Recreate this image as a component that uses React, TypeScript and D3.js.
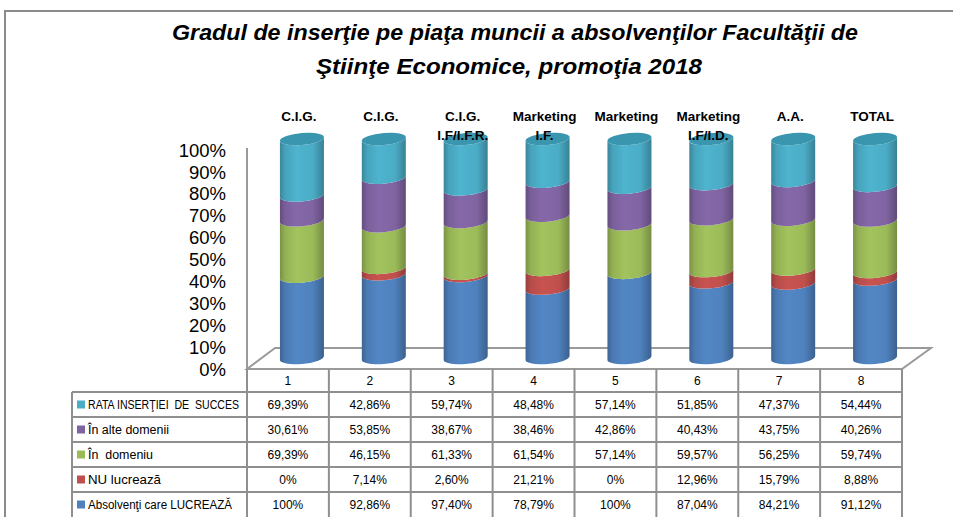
import React from "react";
import * as d3 from "d3";

const W = 953;
const H = 517;

const catLine1 = ["C.I.G.", "C.I.G.", "C.I.G.", "Marketing", "Marketing", "Marketing", "A.A.", "TOTAL"];
const catLine2 = ["", "", "I.F/I.F.R.", "I.F.", "", "I.F/I.D.", "", ""];
const colNumbers = ["1", "2", "3", "4", "5", "6", "7", "8"];

const absolventi = [100, 92.86, 97.4, 78.79, 100, 87.04, 84.21, 91.12];
const nuLucreaza = [0, 7.14, 2.6, 21.21, 0, 12.96, 15.79, 8.88];
const inDomeniu = [69.39, 46.15, 61.33, 61.54, 57.14, 59.57, 56.25, 59.74];
const inAlteDomenii = [30.61, 53.85, 38.67, 38.46, 42.86, 40.43, 43.75, 40.26];
const rataInsertiei = [69.39, 42.86, 59.74, 48.48, 57.14, 51.85, 47.37, 54.44];

const yTicks = [0, 0.1, 0.2, 0.3, 0.4, 0.5, 0.6, 0.7, 0.8, 0.9, 1];

const seriesKeys = ["abs", "nu", "dom", "alte", "rata"];
const seriesNames: Record<string, string> = {
  abs: "Absolvenţi care LUCREAZĂ",
  nu: "NU lucrează",
  dom: "În  domeniu",
  alte: "În alte domenii",
  rata: "RATA INSERŢIEI  DE  SUCCES",
};
const legendTextWidths: Record<string, number> = {
  abs: 144,
  nu: 73,
  dom: 65,
  alte: 81,
  rata: 151,
};
const seriesValues: Record<string, number[]> = {
  abs: absolventi,
  nu: nuLucreaza,
  dom: inDomeniu,
  alte: inAlteDomenii,
  rata: rataInsertiei,
};
const seriesColors: Record<string, string> = {
  abs: "#4F81BD",
  nu: "#C0504D",
  dom: "#9BBB59",
  alte: "#8064A2",
  rata: "#4BACC6",
};
const tableOrder = ["rata", "alte", "dom", "nu", "abs"];

function fmt(v: number) {
  if (Number.isInteger(v)) return `${v}%`;
  return `${v.toFixed(2).replace(".", ",")}%`;
}

export default function App() {
  const rows = catLine1.map((_, i) => {
    const o: Record<string, number> = {};
    seriesKeys.forEach((k) => (o[k] = seriesValues[k][i]));
    return o;
  });
  const stacked = d3.stack<Record<string, number>>().keys(seriesKeys).offset(d3.stackOffsetExpand)(rows);

  const x = d3.scaleBand<number>().domain(d3.range(8)).range([247, 902]).paddingInner(0).paddingOuter(0);
  const y = d3.scaleLinear().domain([0, 1]).range([369, 150]);

  const depthDx = 14;
  const depthDy = -11;
  const r = 22;
  const ry = 6;

  const cx = (i: number) => (x(i) as number) + x.bandwidth() / 2 + depthDx;
  const cy = (v: number) => y(v) + depthDy;

  const segPath = (c: number, t: number, b: number) =>
    `M${c - r},${t} A${r},${ry} 0 0 0 ${c + r},${t} L${c + r},${b} A${r},${ry} 0 0 1 ${c - r},${b} Z`;

  const gradId = (k: string) => `grad-${k}`;

  const tableLeft = 72;
  const tableRight = 902;
  const headerTop = 369;
  const headerBottom = 392;
  const rowH = 25;
  const gridColor = "#8f8f8f";

  return (
    <svg width={W} height={H} style={{ position: "absolute", left: 0, top: 0, background: "#fff" }}>
      <defs>
        {seriesKeys.map((k) => {
          const c = d3.color(seriesColors[k])!;
          return (
            <linearGradient key={k} id={gradId(k)} x1="0" x2="1" y1="0" y2="0">
              <stop offset="0" stopColor={c.darker(0.7).formatHex()} />
              <stop offset="0.12" stopColor={c.darker(0.15).formatHex()} />
              <stop offset="0.38" stopColor={c.brighter(0.12).formatHex()} />
              <stop offset="0.75" stopColor={c.formatHex()} />
              <stop offset="1" stopColor={c.darker(0.8).formatHex()} />
            </linearGradient>
          );
        })}
      </defs>
      <rect x={0} y={0} width={W} height={H} fill="#fff" />
      {/* frame */}
      <path d={`M5,${H} L5,11 L${W},11`} fill="none" stroke="#8a8a8a" strokeWidth={2} />

      {/* title */}
      <g fontFamily="'Liberation Sans', Arial, sans-serif" fontWeight="bold" fontStyle="italic" fontSize={22} fill="#000">
        <text x={515} y={40} textAnchor="middle" textLength={686} lengthAdjust="spacingAndGlyphs">
          Gradul de inserţie pe piaţa muncii a absolvenţilor Facultăţii de
        </text>
        <text x={509} y={74} textAnchor="middle" textLength={386} lengthAdjust="spacingAndGlyphs">
          Ştiinţe Economice, promoţia 2018
        </text>
      </g>

      {/* y axis labels */}
      <g fontFamily="'Liberation Sans', Arial, sans-serif" fontSize={18.5} fill="#000">
        {yTicks.map((t) => (
          <text key={t} x={226} y={y(t)} dy="0.36em" textAnchor="end">
            {d3.format(".0%")(t)}
          </text>
        ))}
      </g>

      {/* axis and floor */}
      <g fill="none" stroke="#9a9a9a" strokeWidth={2}>
        <line x1={247} y1={148} x2={247} y2={369} />
        <path
          d={`M247,369 L${247 + 2 * depthDx},${369 + 2 * depthDy + 1} L${902 + 2 * depthDx + 1},${369 + 2 * depthDy + 1} L902,369 Z`}
        />
      </g>

      {/* cylinders */}
      {catLine1.map((_, i) => {
        const c = cx(i);
        const topY = cy(1);
        return (
          <g key={i} transform={`translate(${c},${topY}) skewY(-5) translate(${-c},${-topY})`}>
            {stacked.map((s) => {
              const d = s[i];
              if (d[1] - d[0] <= 0) return null;
              return <path key={s.key} d={segPath(c, cy(d[1]), cy(d[0]))} fill={`url(#${gradId(s.key)})`} />;
            })}
            <ellipse cx={c} cy={topY} rx={r} ry={ry} fill="#3A95AE" />
          </g>
        );
      })}

      {/* category labels */}
      <g fontFamily="'Liberation Sans', Arial, sans-serif" fontWeight="bold" fontSize={13.5} fill="#000" textAnchor="middle">
        {catLine1.map((l, i) => (
          <g key={i}>
            <text x={cx(i) - 3} y={121}>
              {l}
            </text>
            {catLine2[i] && (
              <text x={cx(i) - 3} y={140}>
                {catLine2[i]}
              </text>
            )}
          </g>
        ))}
      </g>

      {/* data table */}
      <g stroke={gridColor} strokeWidth={2} fill="none">
        {d3.range(9).map((j) => {
          const xx = j < 8 ? (x(j) as number) : tableRight;
          return <line key={j} x1={xx} y1={headerTop} x2={xx} y2={H} />;
        })}
        <line x1={tableLeft} y1={headerBottom} x2={tableLeft} y2={H} />
        {d3.range(5).map((k) => (
          <line key={k} x1={tableLeft} y1={headerBottom + k * rowH} x2={tableRight} y2={headerBottom + k * rowH} />
        ))}
      </g>
      <g fontFamily="'Liberation Sans', Arial, sans-serif" fontSize={12} fill="#000" textAnchor="middle">
        {colNumbers.map((n, j) => (
          <text key={j} x={(x(j) as number) + x.bandwidth() / 2} y={381} dy="0.35em">
            {n}
          </text>
        ))}
        {tableOrder.map((k, ri) =>
          seriesValues[k].map((v, j) => (
            <text key={`${k}-${j}`} x={(x(j) as number) + x.bandwidth() / 2} y={headerBottom + ri * rowH + rowH / 2} dy="0.36em">
              {fmt(v)}
            </text>
          ))
        )}
      </g>
      <g fontFamily="'Liberation Sans', Arial, sans-serif" fill="#000">
        {tableOrder.map((k, ri) => {
          const yc = headerBottom + ri * rowH + rowH / 2;
          return (
            <g key={k}>
              <rect x={77} y={yc - 4} width={8} height={8} fill={seriesColors[k]} />
              <text
                x={88}
                y={yc}
                dy="0.36em"
                fontSize={k === "nu" ? 13 : 12}
                textLength={legendTextWidths[k]}
                lengthAdjust="spacingAndGlyphs"
                style={{ whiteSpace: "pre" }}
              >
                {seriesNames[k]}
              </text>
            </g>
          );
        })}
      </g>
    </svg>
  );
}
